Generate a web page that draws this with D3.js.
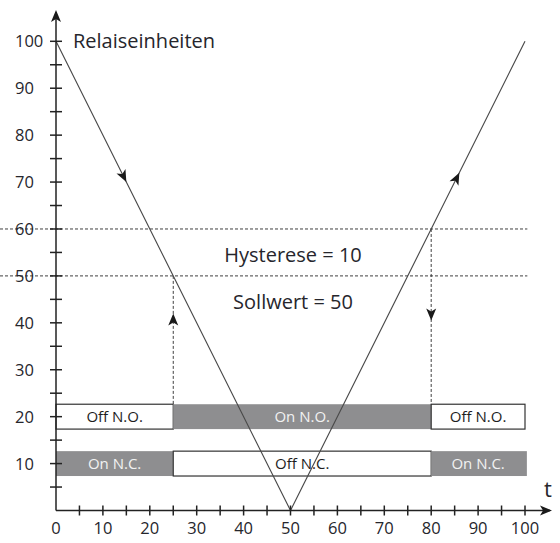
<!DOCTYPE html>
<html>
<head>
<meta charset="utf-8">
<script src="https://cdn.jsdelivr.net/npm/d3@7"></script>
<style>
  html, body { margin: 0; padding: 0; background: #fff; }
  svg text { font-family: "Open Sans", "Noto Sans", sans-serif; fill: #26262c; }
</style>
</head>
<body>
<div id="chart"></div>
<script>
// data
const xTicks = [0, 10, 20, 30, 40, 50, 60, 70, 80, 90, 100];
const yTicks = [10, 20, 30, 40, 50, 60, 70, 80, 90, 100];
const minorTicks = [5, 15, 25, 35, 45, 55, 65, 75, 85, 95];
const vCurve = [{t: 0, v: 100}, {t: 50, v: 0}, {t: 100, v: 100}];
const curveArrows = [{t: 15, dir: "down"}, {t: 86, dir: "up"}];
const levels = [50, 60];
const switches = [
  {t: 25, v: 50, arrowAt: 42, dir: "up"},
  {t: 80, v: 60, arrowAt: 40.5, dir: "down"}
];
const rowNO = 20, rowNC = 10, rowHalf = 2.65;
const segNO = [
  {from: 0, to: 25, label: "Off N.O.", on: false},
  {from: 25, to: 80, label: "On N.O.", on: true},
  {from: 80, to: 100, label: "Off N.O.", on: false}
];
const segNC = [
  {from: 0, to: 25, label: "On N.C.", on: true},
  {from: 25, to: 80, label: "Off N.C.", on: false},
  {from: 80, to: 100.4, label: "On N.C.", on: true}
];
const yTitle = "Relaiseinheiten";
const xTitle = "t";
const notes = [{text: "Hysterese = 10", v: 53}, {text: "Sollwert = 50", v: 43}];

const W = 560, H = 543;
const x = d3.scaleLinear().domain([0, 100]).range([56, 525]);
const y = d3.scaleLinear().domain([0, 100]).range([510.5, 41.3]);

const svg = d3.select("#chart").append("svg")
    .attr("width", W).attr("height", H);

// arrowhead shape, tip at origin pointing +x
const headPath = "M0,0 L-12,-5 L-9,0 L-12,5 Z";
function arrowAt(px, py, angleDeg, g) {
  g.append("path")
    .attr("d", headPath)
    .attr("transform", "translate(" + px + "," + py + ") rotate(" + angleDeg + ")")
    .attr("fill", "#1a1a1a");
}

// bars
function drawRow(segs, center) {
  const g = svg.append("g");
  g.selectAll("rect").data(segs).enter().append("rect")
      .attr("x", d => x(d.from))
      .attr("y", y(center + rowHalf))
      .attr("width", d => x(d.to) - x(d.from))
      .attr("height", y(center - rowHalf) - y(center + rowHalf))
      .attr("fill", d => d.on ? "#8e8e90" : "#fff")
      .attr("stroke", d => d.on ? "none" : "#333")
      .attr("stroke-width", 1.2);
  g.selectAll("text").data(segs).enter().append("text")
      .attr("x", d => (x(d.from) + x(Math.min(d.to, 100))) / 2)
      .attr("y", y(center))
      .attr("dy", "0.36em")
      .attr("text-anchor", "middle")
      .style("font-size", "15px")
      .style("fill", d => d.on ? "#f2f2f2" : "#1e1e1e")
      .text(d => d.label);
}
drawRow(segNO, rowNO);
drawRow(segNC, rowNC);

// dashed level lines
svg.append("g").selectAll("line").data(levels).enter().append("line")
    .attr("x1", 0).attr("x2", x(100.5))
    .attr("y1", d => y(d)).attr("y2", d => y(d))
    .attr("stroke", "#2a2a2a").attr("stroke-width", 0.9)
    .attr("stroke-dasharray", "3,2");

// vertical switch lines
const sw = svg.append("g");
switches.forEach(s => {
  sw.append("line")
    .attr("x1", x(s.t)).attr("x2", x(s.t))
    .attr("y1", y(s.v)).attr("y2", y(rowNO + rowHalf))
    .attr("stroke", "#2a2a2a").attr("stroke-width", 0.9)
    .attr("stroke-dasharray", "3,2");
  arrowAt(x(s.t), y(s.arrowAt), s.dir === "up" ? -90 : 90, sw);
});

// V curve
const line = d3.line().x(d => x(d.t)).y(d => y(d.v));
svg.append("path")
    .datum(vCurve)
    .attr("d", line)
    .attr("fill", "none")
    .attr("stroke", "#4a4a4a")
    .attr("stroke-width", 1.15);
curveArrows.forEach(a => {
  const v = a.t <= 50 ? 100 - 2 * a.t : 2 * a.t - 100;
  const p0 = a.dir === "down" ? [x(0), y(100)] : [x(50), y(0)];
  const p1 = [x(a.t), y(v)];
  const ang = Math.atan2(p1[1] - p0[1], p1[0] - p0[0]) * 180 / Math.PI;
  arrowAt(p1[0], p1[1], ang, svg);
});

// axes
const ax = svg.append("g");
ax.append("line")
    .attr("x1", x(0)).attr("x2", 550)
    .attr("y1", y(0)).attr("y2", y(0))
    .attr("stroke", "#222").attr("stroke-width", 1.5);
arrowAt(552, y(0), 0, ax);
ax.append("line")
    .attr("x1", x(0)).attr("x2", x(0))
    .attr("y1", y(0)).attr("y2", 12)
    .attr("stroke", "#222").attr("stroke-width", 1.5);
arrowAt(x(0), 10, -90, ax);

// ticks crossing the axes
const allX = xTicks.concat(minorTicks).filter(d => d > 0);
ax.selectAll(".xt").data(allX).enter().append("line")
    .attr("x1", d => x(d)).attr("x2", d => x(d))
    .attr("y1", y(0) - 5).attr("y2", y(0) + 5)
    .attr("stroke", "#222").attr("stroke-width", 1.5);
const allY = yTicks.concat(minorTicks);
ax.selectAll(".yt").data(allY).enter().append("line")
    .attr("x1", x(0) - 6).attr("x2", x(0) + 6)
    .attr("y1", d => y(d)).attr("y2", d => y(d))
    .attr("stroke", "#222").attr("stroke-width", 1.5);

ax.selectAll(".xl").data(xTicks).enter().append("text")
    .attr("x", d => x(d))
    .attr("y", 534)
    .attr("text-anchor", "middle")
    .style("font-size", "16.5px")
    .text(d => d);
ax.selectAll(".yl").data(yTicks).enter().append("text")
    .attr("x", 15)
    .attr("y", d => y(d))
    .attr("dy", "0.36em")
    .style("font-size", "16.5px")
    .text(d => d);

// titles
svg.append("text")
    .attr("x", 73).attr("y", 48)
    .style("font-size", "20px")
    .text(yTitle);
svg.append("text")
    .attr("x", 548).attr("y", 497)
    .attr("text-anchor", "middle")
    .style("font-size", "22px")
    .text(xTitle);
svg.append("g").selectAll("text").data(notes).enter().append("text")
    .attr("x", 293)
    .attr("y", d => y(d.v))
    .attr("text-anchor", "middle")
    .style("font-size", "20px")
    .text(d => d.text);
</script>
</body>
</html>
